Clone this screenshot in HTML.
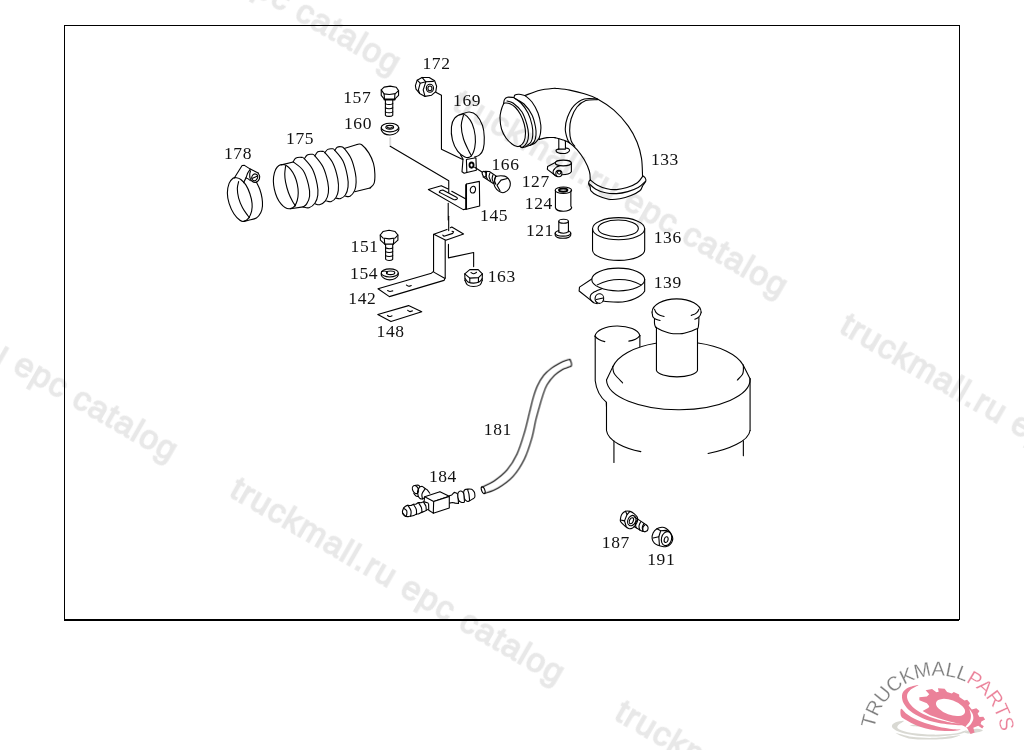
<!DOCTYPE html>
<html lang="en">
<head>
<meta charset="utf-8">
<title>truckmall.ru epc catalog</title>
<style>
html,body{margin:0;padding:0;background:#fff;width:1024px;height:750px;overflow:hidden}
svg{display:block;position:absolute;left:0;top:0}
.wm,.lb{filter:grayscale(1)}
.wm{font-family:"Liberation Sans",Arial,sans-serif;font-size:33.5px;fill:#e8e8e8;stroke:#e8e8e8;stroke-width:1.4;letter-spacing:1.1px}
.lb{font-family:"Liberation Serif","Times New Roman",serif;font-size:17.5px;fill:#111;letter-spacing:0.6px}
.d *{fill:none;stroke:#000;stroke-width:1.1;vector-effect:non-scaling-stroke;stroke-linecap:round;stroke-linejoin:round}
.d .w{fill:#fff}
</style>
</head>
<body>
<svg width="1024" height="750" viewBox="0 0 1024 750">
<!-- WATERMARKS -->
<g class="wm" id="wm">
<text transform="translate(228.0,495.5) rotate(30)">truckmall.ru epc catalog</text>
<text transform="translate(-159.0,272.5) rotate(30)">truckmall.ru epc catalog</text>
<text transform="translate(451.0,108.5) rotate(30)">truckmall.ru epc catalog</text>
<text transform="translate(64.0,-114.5) rotate(30)">truckmall.ru epc catalog</text>
<text transform="translate(838.0,331.5) rotate(30)">truckmall.ru epc catalog</text>
<text transform="translate(613.0,718.5) rotate(30)">truckmall.ru epc catalog</text>
</g>
<!-- FRAME -->
<rect x="64.5" y="25.5" width="895" height="594" fill="none" stroke="#000" stroke-width="1"/>
<rect x="64" y="619" width="895" height="2" fill="#000"/>
<!-- LABELS -->
<g class="lb" id="labels">
<text transform="translate(422.5,68.8)">172</text>
<text transform="translate(343.2,103.1)">157</text>
<text transform="translate(344.0,129.4)">160</text>
<text transform="translate(453.1,105.5)">169</text>
<text transform="translate(286.1,144.4)">175</text>
<text transform="translate(224.0,158.6)">178</text>
<text transform="translate(491.5,170.2)">166</text>
<text transform="translate(521.7,187.3)">127</text>
<text transform="translate(524.8,209.2)">124</text>
<text transform="translate(480.1,221.2)">145</text>
<text transform="translate(525.9,236.0)">121</text>
<text transform="translate(653.7,242.9)">136</text>
<text transform="translate(653.7,287.9)">139</text>
<text transform="translate(350.6,251.6)">151</text>
<text transform="translate(350.1,279.4)">154</text>
<text transform="translate(487.7,282.4)">163</text>
<text transform="translate(348.3,303.5)">142</text>
<text transform="translate(376.6,337.2)">148</text>
<text transform="translate(483.8,434.8)">181</text>
<text transform="translate(428.9,481.7)">184</text>
<text transform="translate(601.8,547.7)">187</text>
<text transform="translate(647.2,564.8)">191</text>
<text transform="translate(650.9,164.7)">133</text>
</g>
<!-- DRAWING -->
<g class="d" id="drawing">
<!-- air filter housing: zoom origin (570,290) scale 1/4.165 -->
<g transform="translate(570,290) scale(0.2401)">
<path d="M178,321 A275,130 0 0 1 357,222"/>
<path d="M533,221 A275,130 0 0 1 721,312"/>
<path d="M152,375 A299,126 0 0 0 750,370"/>
<path d="M180,316 L152,375 M721,312 L750,370"/>
<path d="M178,321 C178.3,323.3 178.5,329.8 180,335 C181.5,340.2 180.5,343.3 187,352 C193.5,360.7 213.7,381.2 219,387"/>
<path d="M722,314 C722,317.5 722.7,328.7 722,335 C721.3,341.3 722.2,345.3 718,352 C713.8,358.7 700.5,371.2 697,375"/>
<path d="M152,468 V585 M750,370 V585"/>
<path d="M152,585 C158,630 230,660 295,673 M750,585 C744,630 660,665 575,681"/>
<path d="M183,628 V718 M722,628 V690"/>
<!-- neck -->
<path d="M342,92 A102,55 0 0 1 546,92"/>
<path d="M352,80 C356.3,86.7 351.7,90 365,100 C378.3,110 383,106.7 392,110"/>
<path d="M505,106 C512.3,102.3 516.3,103.7 527,95 C537.7,86.3 533.7,85 537,80"/>
<path d="M342,92 C342.3,94.7 340.3,91.7 343,100 C345.7,108.3 339.3,108 350,117 C360.7,126 366.7,123.7 375,127"/>
<path d="M520,122 C525.7,118.7 528.7,120.3 537,112 C545.3,103.7 542,103.7 545,97 C548,90.3 545.7,93.7 546,92"/>
<path d="M352,120 C352.3,128.3 350.3,132.7 353,145 C355.7,157.3 357.7,153 360,157"/>
<path d="M537,115 C536.3,126.7 537,134 535,150 C533,166 532.3,158.7 531,163"/>
<path d="M357,155 C371.3,161.7 370.7,166 400,175 C429.3,184 415,181.7 445,182 C475,182.3 461.3,183.3 490,176 C518.7,168.7 517.3,165.3 531,160"/>
<path d="M360,155 V335 A86,30 0 0 0 531,335 V160"/>
<!-- side inlet -->
<path d="M104,192 A94,46 0 0 1 291,190"/>
<path d="M104,192 C112,203 125,211 145,215 M291,190 C282,202 265,210 245,213"/>
<path d="M105,192 V378 C109,412 126,446 151,467 L152,486 M291,190 V236"/>
</g>
<!-- elbow left -->
<g transform="translate(495,85) scale(0.10000)">
<path d="M85,190 C77.5,203.3 65.8,236.7 60,260 C54.2,283.3 49.2,300 50,330 C50.8,360 55,406.7 65,440 C75,473.3 92.5,505 110,530 C127.5,555 152.5,576.2 170,590 C187.5,603.8 201.7,609.7 215,613 C228.3,616.3 237.5,618 250,610 C262.5,602 280.8,586.7 290,565 C299.2,543.3 304.7,509.2 305,480 C305.3,450.8 300.3,420.8 292,390 C283.7,359.2 269.5,322.5 255,295 C240.5,267.5 222.5,243 205,225 C187.5,207 166.7,194.5 150,187 C133.3,179.5 115.8,179.5 105,180 C94.2,180.5 92.5,176.7 85,190Z"/>
<path d="M120,160 C130,163.3 155,161.7 180,180 C205,198.3 246.7,233.3 270,270 C293.3,306.7 309.2,361.7 320,400 C330.8,438.3 335,470.8 335,500 C335,529.2 330,554.7 320,575 C310,595.3 286.7,615.8 275,622 C263.3,628.2 254.2,613.7 250,612"/>
<path d="M85,190 C86.7,182.5 88.3,156.3 95,145 C101.7,133.7 110,125.3 125,122 C140,118.7 175,124.5 185,125"/>
<path d="M185,125 C197.5,134.2 235.8,154.2 260,180 C284.2,205.8 311.7,243.3 330,280 C348.3,316.7 362,363.3 370,400 C378,436.7 379.7,471.7 378,500 C376.3,528.3 370,552.3 360,570 C350,587.7 325,600 318,606"/>
<path d="M200,135 C215,144.2 261.7,162.5 290,190 C318.3,217.5 350.8,261.7 370,300 C389.2,338.3 398.3,386.7 405,420 C411.7,453.3 412.2,475.7 410,500 C407.8,524.3 402,548.8 392,566 C382,583.2 357,596.8 350,603"/>
<path d="M190,125 C191.7,120.8 191.7,105.5 200,100 C208.3,94.5 223.3,91.2 240,92 C256.7,92.8 290,102.8 300,105"/>
<path d="M300,105 C311.7,115.8 348.3,140.8 370,170 C391.7,199.2 415.3,241.7 430,280 C444.7,318.3 453.8,366.7 458,400 C462.2,433.3 458,457.5 455,480 C452,502.5 442.5,525.8 440,535"/>
<path d="M250,612 C253.7,614.3 262,625.3 272,626 C282,626.7 297,619.8 310,616 C323,612.2 335,609 350,603 C365,597 385,591.3 400,580 C415,568.7 433.3,542.5 440,535"/>
<path d="M300,105 C325,96.2 400,64.2 450,52 C500,39.8 575,35.3 600,32"/>
<path d="M440,545 C453.3,541.8 493.3,529.2 520,526 C546.7,522.8 586.7,526 600,526"/>
</g>
<!-- elbow right -->
<g transform="translate(555,85) scale(0.14663)">
<path d="M0,22 C16.7,24.2 66.7,28.7 100,35 C133.3,41.3 168.3,50 200,60 C231.7,70 256.7,76.7 290,95 C323.3,113.3 365,139.2 400,170 C435,200.8 473.3,243.3 500,280 C526.7,316.7 545,353.3 560,390 C575,426.7 583.8,461.7 590,500 C596.2,538.3 595.8,600 597,620"/>
<path d="M290,95 C275,95 226.7,87.5 200,95 C173.3,102.5 149.2,119.2 130,140 C110.8,160.8 95,193.3 85,220 C75,246.7 70,275 70,300 C70,325 80,354.2 85,370 C90,385.8 97.5,390.8 100,395"/>
<path d="M290,100 C276.7,101 233.3,97.7 210,106 C186.7,114.3 166.7,129.3 150,150 C133.3,170.7 118.3,203.3 110,230 C101.7,256.7 100,285 100,310 C100,335 104.2,362 110,380 C115.8,398 130.8,411.7 135,418"/>
<path d="M0,359 C8.3,361.3 33.3,367 50,373 C66.7,379 83.3,383.8 100,395 C116.7,406.2 133.3,420.8 150,440 C166.7,459.2 185.8,485 200,510 C214.2,535 228.3,566.7 235,590 C241.7,613.3 239.2,640 240,650"/>
</g>
<!-- elbow flange -->
<g transform="translate(575,150) scale(0.08000)">
<path d="M193,375 C190,377.8 178.5,382.8 175,392 C171.5,401.2 169.5,418.3 172,430 C174.5,441.7 185.3,448.7 190,462 C194.7,475.3 185,492 200,510 C215,528 243.3,552.5 280,570 C316.7,587.5 373.3,608.3 420,615 C466.7,621.7 513.3,617.5 560,610 C606.7,602.5 658.3,586.7 700,570 C741.7,553.3 786.3,529.2 810,510 C833.7,490.8 836.7,464.2 842,455"/>
<path d="M845,320 C850.5,325 871.3,338.3 878,350 C884.7,361.7 889.7,375 885,390 C880.3,405 857.2,429.2 850,440 C842.8,450.8 843.3,452.5 842,455"/>
<path d="M193,375 C207.5,385.8 245.5,421.7 280,440 C314.5,458.3 360,475.8 400,485 C440,494.2 478.3,497.5 520,495 C561.7,492.5 606.7,484.2 650,470 C693.3,455.8 747.5,433.3 780,410 C812.5,386.7 834.2,343.3 845,330"/>
<path d="M175,420 C189.2,431.7 225.8,470.8 260,490 C294.2,509.2 336.7,525.8 380,535 C423.3,544.2 473.3,547.5 520,545 C566.7,542.5 615,532.5 660,520 C705,507.5 753.3,491.3 790,470 C826.7,448.7 865,405 880,392"/>
</g>
<!-- bellows 175 -->
<g transform="translate(268,140) scale(0.11719)">
<ellipse cx="152" cy="398" rx="100" ry="192" transform="rotate(-12 152 398)"/>
<path d="M150,225 C148.8,235.8 143,267.5 143,290 C143,312.5 144.7,333.3 150,360 C155.3,386.7 165,422.5 175,450 C185,477.5 200,506.3 210,525 C220,543.7 230.8,555.8 235,562"/>
<path d="M115,212 L215,187"/>
<path d="M215,187 C229.2,199.2 278.3,227.8 300,260 C321.7,292.2 335.8,343.3 345,380 C354.2,416.7 357.5,452.5 355,480 C352.5,507.5 339.2,529.8 330,545 C320.8,560.2 305,566.7 300,571"/>
<path d="M192,587 L300,571"/>
<path d="M215,187 C218.3,181.7 223.3,161.5 235,155 C246.7,148.5 272.5,147.2 285,148 C297.5,148.8 294.2,143 310,160 C325.8,177 361.7,213.3 380,250 C398.3,286.7 412.5,343.3 420,380 C427.5,416.7 428.3,443.3 425,470 C421.7,496.7 412.5,522 400,540 C387.5,558 366.7,572.8 350,578 C333.3,583.2 308.3,572.2 300,571"/>
<path d="M310,160 C314.2,154.7 324.2,134.3 335,128 C345.8,121.7 364.2,120.8 375,122 C385.8,123.2 384.2,117 400,135 C415.8,153 451.7,192.5 470,230 C488.3,267.5 502.5,323.3 510,360 C517.5,396.7 518.3,423.3 515,450 C511.7,476.7 502.5,503 490,520 C477.5,537 454.2,547.8 440,552 C425.8,556.2 410.8,546.2 405,545"/>
<path d="M400,135 C404.2,129.2 414.2,106.3 425,100 C435.8,93.7 455,95.7 465,97 C475,98.3 470,90.8 485,108 C500,125.2 536.7,163 555,200 C573.3,237 587.5,291.7 595,330 C602.5,368.3 602.5,403.3 600,430 C597.5,456.7 590,474.2 580,490 C570,505.8 553.3,520 540,525 C526.7,530 506.7,520.8 500,520"/>
<path d="M485,108 C489.2,103.3 499.2,85.5 510,80 C520.8,74.5 540,73.7 550,75 C560,76.3 555,70.5 570,88 C585,105.5 622,143 640,180 C658,217 670.8,273.3 678,310 C685.2,346.7 686,373.3 683,400 C680,426.7 670.5,453.3 660,470 C649.5,486.7 633,495.5 620,500 C607,504.5 588.3,497.5 582,497"/>
<path d="M570,88 C573.3,83.7 580.8,67 590,62 C599.2,57 615,56.3 625,58 C635,59.7 635.8,55 650,72 C664.2,89 694.2,125.3 710,160 C725.8,194.7 738,246.7 745,280 C752,313.3 752.8,335 752,360 C751.2,385 748.7,410 740,430 C731.3,450 713,471.7 700,480 C687,488.3 668.3,480 662,480"/>
<path d="M650,72 L760,38"/>
<path d="M760,38 C766.7,38.3 783.3,28 800,40 C816.7,52 843.3,83.3 860,110 C876.7,136.7 891.3,170 900,200 C908.7,230 911.2,261.7 912,290 C912.8,318.3 912,350 905,370 C898,390 875.8,403.3 870,410"/>
<path d="M870,410 L740,442"/>
</g>
<!-- clamp 178 -->
<g transform="translate(220,160) scale(0.08666)">
<path d="M150,210 C135.8,220.8 115.8,241.7 105,270 C94.2,298.3 85,341.7 85,380 C85,418.3 92.5,460 105,500 C117.5,540 139.2,587.5 160,620 C180.8,652.5 210.8,680.3 230,695 C249.2,709.7 258.3,712.2 275,708 C291.7,703.8 315,689.7 330,670 C345,650.3 358.3,618.3 365,590 C371.7,561.7 373.3,533.3 370,500 C366.7,466.7 356.7,425 345,390 C333.3,355 317.5,317.5 300,290 C282.5,262.5 258.3,239.2 240,225 C221.7,210.8 205,207.5 190,205 C175,202.5 164.2,199.2 150,210Z"/>
<path d="M215,250 C212.5,263.3 200,298.3 200,330 C200,361.7 205,403.3 215,440 C225,476.7 242.5,516.7 260,550 C277.5,583.3 306.7,620.8 320,640 C333.3,659.2 336.7,660.8 340,665"/>
<path d="M420,255 C426.7,269.2 449.2,309.2 460,340 C470.8,370.8 480,408.3 485,440 C490,471.7 492.5,501.7 490,530 C487.5,558.3 481.7,586.7 470,610 C458.3,633.3 443.3,655.8 420,670 C396.7,684.2 354.2,688.7 330,695 C305.8,701.3 284.2,705.8 275,708"/>
<path d="M165,207 L255,63 L282,62 L350,105 L440,150"/>
<path d="M350,105 C345,112.5 328.3,133.3 320,150 C311.7,166.7 308,186.3 300,205 C292,223.7 276.7,252.5 272,262"/>
<path d="M300,205 C303.3,206.7 311.7,209.5 320,215 C328.3,220.5 345,234.2 350,238"/>
<path d="M352,125 C350.5,131.7 343.8,150.8 343,165 C342.2,179.2 342.5,196.7 347,210 C351.5,223.3 359.5,237 370,245 C380.5,253 397.5,259.7 410,258 C422.5,256.3 437,246.3 445,235 C453,223.7 458.8,204.2 458,190 C457.2,175.8 443,156.7 440,150"/>
<ellipse cx="400" cy="200" rx="33" ry="40" transform="rotate(25 400 200)"/>
<path d="M375,212 L428,188"/>
</g>
<!-- 136 139 -->
<g transform="translate(570,215) scale(0.12658)">
<ellipse cx="384" cy="108" rx="206" ry="87"/>
<ellipse cx="381" cy="106" rx="159" ry="66"/>
<path d="M178,108 V278 A206,82 0 0 0 590,275 V108"/>
<ellipse cx="381" cy="510" rx="209" ry="90"/>
<path d="M215,552 C270,525 330,510 390,510 C450,510 510,525 560,552"/>
<path d="M590,508 V600 C570,640 480,688 380,688 C330,688 290,686 262,680"/>
<path d="M172,506 L75,570 L72,600 L188,692"/>
<path d="M250,583 C244.2,585.2 225.8,591.2 215,596 C204.2,600.8 190,609.3 185,612"/>
<path d="M185,612 C181.7,615 169.2,622 165,630 C160.8,638 156.7,649.7 160,660 C163.3,670.3 175.8,685.3 185,692 C194.2,698.7 210,698.7 215,700"/>
<ellipse cx="232" cy="660" rx="34" ry="38" transform="rotate(10 232 660)"/>
<path d="M208,668 L262,655"/>
</g>
<!-- stub 127 -->
<g transform="translate(540,135) scale(0.08000)">
<path d="M235,45 L235,175"/>
<path d="M318,78 L318,165"/>
<path d="M235,176 C210,178 200,186 200,196 C200,215 240,232 285,232 C325,232 368,215 370,190 C368,172 340,160 322,166"/>
<path d="M235,176 L318,176"/>
<ellipse cx="291" cy="350" rx="101" ry="36"/>
<path d="M392,350 V460 C375,485 330,497 275,497"/>
<path d="M191,345 L95,395 L92,430 L192,507"/>
<path d="M240,386 C234.2,388.7 215.3,395 205,402 C194.7,409 182.5,423.7 178,428"/>
<path d="M178,428 C175.8,431.7 166.7,441.3 165,450 C163.3,458.7 163.5,470.5 168,480 C172.5,489.5 184.2,500.3 192,507 C199.8,513.7 211.2,517.8 215,520"/>
<ellipse cx="236" cy="482" rx="38" ry="40"/>
<ellipse cx="240" cy="470" rx="22" ry="20"/>
</g>
<!-- 124 121 -->
<g transform="translate(540,180) scale(0.08666)">
<ellipse cx="270" cy="118" rx="95" ry="38"/>
<ellipse cx="268" cy="116" rx="48" ry="19" style="stroke-width:2"/>
<path d="M178,122 V320 C185,345 225,360 268,360 C310,360 355,345 366,320 L356,300 V125"/>
<ellipse cx="272" cy="476" rx="55" ry="23"/>
<path d="M217,478 V600 M328,478 V596"/>
<path d="M217,582 C195,588 175,598 175,615 V635 C180,655 220,672 265,672 C310,672 350,655 355,635 V612 C352,600 342,592 328,586"/>
<path d="M175,615 C180,632 220,648 265,648 C310,648 350,632 355,612"/>
<path d="M217,600 C230,610 250,614 272,614 C295,614 315,608 328,596"/>
</g>
<!-- 157 160 -->
<g transform="translate(375,75) scale(0.08666)">
<path d="M72,172 L105,140 L175,128 L245,142 L272,180 L235,215 L165,225 L105,218Z"/>
<path d="M72,172 L72,235 L110,282 L225,282 L272,235 L272,180"/>
<path d="M105,218 L110,282"/>
<path d="M230,216 L226,282"/>
<path d="M110,284 H226" style="stroke-width:2"/>
<path d="M120,290 V465 C135,480 185,482 205,465 V290"/>
<path d="M120,330 C140,345 185,345 205,330 M120,378 C140,393 185,393 205,378 M120,425 C140,440 185,440 205,425"/>
<ellipse cx="172" cy="606" rx="100" ry="50"/>
<path d="M72,608 V632 C85,670 130,692 172,692 C215,692 262,670 275,632 V606"/>
<ellipse cx="170" cy="603" rx="45" ry="22"/>
<path d="M140,600 C143.3,602 152.5,610 160,612 C167.5,614 178.3,613.5 185,612 C191.7,610.5 197.5,604.5 200,603"/>
</g>
<!-- 151 154 -->
<g transform="translate(370,222) scale(0.08666)">
<path d="M118,150 L150,110 L220,95 L290,110 L322,150 L290,185 L220,195 L150,185Z"/>
<path d="M118,150 L120,210 L170,255 L270,255 L322,210 L322,150"/>
<path d="M165,190 L170,255"/>
<path d="M275,190 L270,255"/>
<path d="M180,258 V430 C195,448 245,448 262,430 V258"/>
<path d="M180,298 C200,312 245,312 262,298 M180,342 C200,356 245,356 262,342 M180,388 C200,402 245,402 262,388"/>
<ellipse cx="228" cy="588" rx="98" ry="47"/>
<path d="M130,590 V612 C140,645 185,668 228,668 C272,668 315,645 326,612 V588"/>
<ellipse cx="238" cy="586" rx="48" ry="21"/>
<path d="M135,572 C140,571 154.2,565 165,566 C175.8,567 195.5,573 200,578 C204.5,583 193.3,593 192,596"/>
</g>
<!-- 172 -->
<g transform="translate(410,70) scale(0.12000)">
<path d="M45,130 L60,85 L100,62 L160,62 L205,90 L222,135 L215,180 L180,210 L125,220 L80,195 L50,160Z"/>
<path d="M100,62 L132,98 L195,95"/>
<path d="M132,98 L110,165 L125,220"/>
<path d="M60,85 L85,110 L70,165 L80,195"/>
<path d="M85,110 L132,98"/>
<ellipse cx="166" cy="152" rx="30" ry="33"/>
<ellipse cx="166" cy="153" rx="17" ry="20"/>
<path d="M215,185 L262,210 L262,660 L440,745"/>
</g>
<!-- 169 -->
<g transform="translate(440,105) scale(0.14663)">
<path d="M150,62 C135.8,64 112,75.3 100,90 C88,104.7 80.5,125 78,150 C75.5,175 78,212.5 85,240 C92,267.5 105.8,295.8 120,315 C134.2,334.2 155,349.2 170,355 C185,360.8 198.8,360.8 210,350 C221.2,339.2 232,313.3 237,290 C242,266.7 242.8,236.7 240,210 C237.2,183.3 229.2,152 220,130 C210.8,108 196.7,89.3 185,78 C173.3,66.7 164.2,60 150,62Z"/>
<path d="M160,70 C157.5,81.7 145,113.3 145,140 C145,166.7 151.7,201.7 160,230 C168.3,258.3 185.8,290.3 195,310 C204.2,329.7 211.7,341.7 215,348"/>
<path d="M150,62 C158.3,59.7 183.3,46.7 200,48 C216.7,49.3 235,54.7 250,70 C265,85.3 281.3,115 290,140 C298.7,165 301.2,193.3 302,220 C302.8,246.7 300.3,280 295,300 C289.7,320 280,330.8 270,340 C260,349.2 240.8,352.5 235,355"/>
<path d="M180,372 L245,360 L248,445 L183,460Z"/>
<path d="M140,340 L157,368 L150,455 L165,465 L183,460"/>
<ellipse cx="215" cy="410" rx="14" ry="18" style="stroke-width:1.8"/>
</g>
<!-- 166 -->
<g transform="translate(470,150) scale(0.06667)">
<path d="M70,260 L180,330"/>
<ellipse cx="215" cy="362" rx="28" ry="44" transform="rotate(-25 215 362)"/>
<path d="M225,320 L290,322 L400,395"/>
<path d="M195,402 L355,505"/>
<path d="M250,328 C248,336.7 236,361.7 238,380 C240,398.3 258,428.3 262,438"/>
<path d="M298,348 C296,357 283.7,382.5 286,402 C288.3,421.5 307.7,454.5 312,465"/>
<path d="M345,372 C342.8,381.3 330.8,408.3 332,428 C333.2,447.7 348.7,479.7 352,490"/>
<path d="M385,392 C382.2,402.5 367.5,434.5 368,455 C368.5,475.5 384.7,505 388,515"/>
<path d="M400,395 C424.7,387 490.8,386.2 520,392 C549.2,397.8 560.8,412 575,430 C589.2,448 603.3,475 605,500 C606.7,525 599.2,557.5 585,580 C570.8,602.5 540,625.8 520,635 C500,644.2 485,642.5 465,635 C445,627.5 417.2,609.2 400,590 C382.8,570.8 366.7,545 362,520 C357.3,495 365.7,460.8 372,440 C378.3,419.2 375.3,403 400,395Z"/>
<path d="M560,428 L465,452 L405,530 L450,612"/>
</g>
<!-- 145 -->
<g transform="translate(380,140) scale(0.10742)">
<path d="M95,-18 V55" style="stroke:#ddd;stroke-width:2"/>
<path d="M95,58 L640,380 L640,488"/>
<path d="M635,455 L570,425 L450,460 L775,648 L805,643"/>
<path d="M668,478 L800,550"/>
<path d="M553,480 Q560,468 585,466 L712,532 Q728,542 714,552 Q700,560 684,554 L560,490 Q548,486 553,480 Z"/>
<path d="M805,410 L925,385 L928,615 L805,645Z"/>
<path d="M805,410 L798,418 L798,645"/>
<ellipse cx="865" cy="462" rx="24" ry="32" transform="rotate(15 865 462)"/>
<path d="M635,590 L635,745"/>
</g>
<!-- 142 163 -->
<g transform="translate(375,215) scale(0.12000)">
<path d="M614,10 L614,130"/>
<path d="M600,120 L490,160 L590,210 L738,158 L640,100 L628,106"/>
<path d="M565,168 L575,177 L648,153 L655,139 L642,135"/>
<path d="M488,160 L488,470"/>
<path d="M585,212 L585,525"/>
<path d="M488,470 L470,485 L25,615 L120,680 L575,545 L585,525"/>
<path d="M490,476 L580,527"/>
<path d="M105,630 C108.3,631.2 117.8,636.7 125,637 C132.2,637.3 144.2,632.8 148,632"/>
<path d="M262,584 C265.3,585.7 275.3,593.3 282,594 C288.7,594.7 298.7,589 302,588"/>
<path d="M612,245 L612,357 L822,312 L822,430"/>
<path d="M748,490 L790,455 L860,455 L895,490 L862,522 L790,526Z"/>
<path d="M748,490 L750,545"/>
<path d="M895,490 L893,545"/>
<path d="M790,526 L790,560"/>
<path d="M862,522 L862,558"/>
<path d="M750,545 C753.3,551.2 758.3,573.5 770,582 C781.7,590.5 802.5,596 820,596 C837.5,596 862.8,590.5 875,582 C887.2,573.5 890,551.2 893,545"/>
<path d="M752,530 C755.8,534.7 763.3,551.7 775,558 C786.7,564.3 806.2,568.3 822,568 C837.8,567.7 858.2,562.3 870,556 C881.8,549.7 889.2,534.3 893,530"/>
<path d="M800,480 C803.7,481.7 814.3,490.3 822,490 C829.7,489.7 842,480 846,478"/>
</g>
<!-- 148 -->
<g transform="translate(340,220) scale(0.17578)">
<path d="M215,538 L390,487 L465,522 L290,578Z"/>
<path d="M270,543 C272,544 277.7,548.7 282,549 C286.3,549.3 293.7,545.7 296,545"/>
<path d="M385,514 C387.2,515.2 393.5,520.5 398,521 C402.5,521.5 409.7,517.7 412,517"/>
</g>
<!-- 181 -->
<g transform="translate(470,350) scale(0.20000)">
<path d="M60,685 C70,680 99.2,669.2 120,655 C140.8,640.8 165.8,622.5 185,600 C204.2,577.5 220.8,550 235,520 C249.2,490 259.5,455 270,420 C280.5,385 290.3,340.3 298,310 C305.7,279.7 309.5,259.8 316,238 C322.5,216.2 328.2,197.7 337,179 C345.8,160.3 357.3,140.7 369,126 C380.7,111.3 393.7,101.2 407,91 C420.3,80.8 436.7,71.7 449,65 C461.3,58.3 472.5,54 481,51 C489.5,48 496.8,47.7 500,47"/>
<path d="M72,718 C83.3,713.3 116.2,704.3 140,690 C163.8,675.7 193,656.2 215,632 C237,607.8 256.5,576.2 272,545 C287.5,513.8 298.5,477.5 308,445 C317.5,412.5 322.8,375.7 329,350 C335.2,324.3 339.2,311.5 345,291 C350.8,270.5 357.3,246.5 364,227 C370.7,207.5 375.2,190.8 385,174 C394.8,157.2 410.5,138.5 423,126 C435.5,113.5 449.3,105.3 460,99 C470.7,92.7 479.5,91 487,88 C494.5,85 502,82.2 505,81"/>
<ellipse cx="66" cy="701" rx="8" ry="18" transform="rotate(-20 66 701)"/>
<path d="M500,47 C501,49.5 504.7,57.5 506,62 C507.3,66.5 508.2,70.8 508,74 C507.8,77.2 505.5,79.8 505,81"/>
</g>
<!-- 184 -->
<g transform="translate(395,478) scale(0.07812)">
<ellipse class="w" cx="262" cy="148" rx="36" ry="54" transform="rotate(-25 262 148)"/>
<path d="M262,95 C268.3,94.5 290,89.2 300,92 C310,94.8 313.7,109.3 322,112 C330.3,114.7 339.5,104.2 350,108 C360.5,111.8 375,128 385,135 C395,142 400,140 410,150 C420,160 439.2,187.5 445,195"/>
<path d="M240,195 C245,201.2 260.3,224.8 270,232 C279.7,239.2 289.7,233 298,238 C306.3,243 311.3,257 320,262 C328.7,267 341.3,269.2 350,268 C358.7,266.8 368.3,257.2 372,255"/>
<path d="M318,108 C313,118.3 291,148.3 288,170 C285,191.7 298,226.7 300,238"/>
<path d="M385,140 C378.3,150.8 350.5,183.7 345,205 C339.5,226.3 350.8,257.5 352,268"/>
<path class="w" d="M697,226 L727,217 L758,184 L784,191 L804,208 L813,326 L771,322 L736,313 L697,322"/>
<path class="w" d="M878,185 C879.8,167 887.7,155.2 898,148 C908.3,140.8 926.2,142.5 940,142 C953.8,141.5 969.8,140.5 981,145 C992.2,149.5 1000.5,160.7 1007,169 C1013.5,177.3 1017.8,181.8 1020,195 C1022.2,208.2 1025,235.5 1020,248 C1015,260.5 1000.8,262.8 990,270 C979.2,277.2 965,286 955,291 C945,296 938.8,301.3 930,300 C921.2,298.7 909.2,290.3 902,283 C894.8,275.7 891,272.3 887,256 C883,239.7 876.2,203 878,185Z"/>
<path d="M929,148 C931.8,157.3 941.7,180.3 946,204 C950.3,227.7 953.5,275.7 955,290"/>
<path class="w" d="M804,204 C805.5,185 815.7,176.5 824,171 C832.3,165.5 845,167 854,171 C863,175 872.8,180.8 878,195 C883.2,209.2 883.2,238.5 885,256 C886.8,273.5 889.7,290.5 889,300 C888.3,309.5 888.2,311.5 881,313 C873.8,314.5 857,313.7 846,309 C835,304.3 822,302.5 815,285 C808,267.5 802.5,223 804,204Z"/>
<path class="w" d="M380,240 L575,175 L695,235 L495,300Z"/>
<path class="w" d="M495,300 L490,450 L695,385 L695,235Z"/>
<path d="M380,240 L372,300"/>
<path d="M430,330 L432,412 L490,450"/>
<path d="M110,385 C114.2,381.2 125.8,367.8 135,362 C144.2,356.2 154.2,351.7 165,350 C175.8,348.3 188.3,354 200,352 C211.7,350 224.2,340.8 235,338 C245.8,335.2 254.2,338.8 265,335 C275.8,331.2 288.3,318.2 300,315 C311.7,311.8 323.3,317.7 335,316 C346.7,314.3 355,304 370,305 C385,306 415.8,319.2 425,322"/>
<path d="M100,450 C105.8,456.7 123.3,482.7 135,490 C146.7,497.3 159.2,494.3 170,494 C180.8,493.7 188.3,490.3 200,488 C211.7,485.7 228.3,483.8 240,480 C251.7,476.2 259.2,468.7 270,465 C280.8,461.3 293.3,462.2 305,458 C316.7,453.8 327.5,445.5 340,440 C352.5,434.5 365.8,431.7 380,425 C394.2,418.3 417.5,404.2 425,400"/>
<path d="M110,385 C107.5,392.5 95.8,416.2 95,430 C94.2,443.8 98.3,457.7 105,468 C111.7,478.3 130,488 135,492"/>
<path d="M112,388 C118.3,393.3 143.7,406.3 150,420 C156.3,433.7 152,458.3 150,470 C148,481.7 140,486.7 138,490"/>
<path d="M165,350 C171.7,361.7 199.2,396.7 205,420 C210.8,443.3 200.8,478.3 200,490"/>
<path d="M235,338 C241.2,348.3 265.3,378.8 272,400 C278.7,421.2 274.5,454.2 275,465"/>
<path d="M300,315 C306.3,325.8 330.5,359.2 338,380 C345.5,400.8 343.8,430 345,440"/>
<path d="M365,308 C370,316.7 389.2,342.2 395,360 C400.8,377.8 399.2,405.8 400,415"/>
</g>
<!-- 187 191 -->
<g transform="translate(615,505) scale(0.06348)">
<path d="M85,225 C87.5,205.8 91.7,170.8 105,150 C118.3,129.2 143.3,108.3 165,100 C186.7,91.7 212.5,94.2 235,100 C257.5,105.8 280.8,120 300,135 C319.2,150 340.8,170.8 350,190 C359.2,209.2 360,228.3 355,250 C350,271.7 334.2,300.8 320,320 C305.8,339.2 287.5,356.7 270,365 C252.5,373.3 235,376.7 215,370 C195,363.3 170.8,342.5 150,325 C129.2,307.5 100.8,281.7 90,265 C79.2,248.3 82.5,244.2 85,225Z"/>
<path d="M165,100 L190,150 L150,250 L175,335"/>
<path d="M235,100 L190,150"/>
<path d="M150,250 L88,235"/>
<ellipse cx="265" cy="245" rx="62" ry="85" transform="rotate(25 265 245)"/>
<ellipse cx="258" cy="248" rx="30" ry="50" transform="rotate(25 258 248)"/>
<path d="M300,185 L400,250 L500,320"/>
<path d="M300,340 L420,410 L470,422"/>
<path d="M500,320 C503.3,325 518,336.7 520,350 C522,363.3 520.3,388 512,400 C503.7,412 477,418.3 470,422"/>
<path d="M470,315 C465,321.7 445,338.3 440,355 C435,371.7 440,405 440,415"/>
<path d="M350,235 C345.3,245 324.5,274.2 322,295 C319.5,315.8 332.8,349.2 335,360"/>
<path d="M405,265 C400.5,275.8 380.5,308.3 378,330 C375.5,351.7 388,384.2 390,395"/>
<path d="M455,295 C450.8,304.2 432.5,330.5 430,350 C427.5,369.5 438.3,401.7 440,412"/>
<path d="M585,530 C581.7,503.3 587.5,465.8 600,440 C612.5,414.2 636.7,390 660,375 C683.3,360 716.7,351.7 740,350 C763.3,348.3 780,353.3 800,365 C820,376.7 842.5,397.5 860,420 C877.5,442.5 897.5,476.7 905,500 C912.5,523.3 910.8,540 905,560 C899.2,580 885.8,604.2 870,620 C854.2,635.8 830,649.2 810,655 C790,660.8 771.7,658.3 750,655 C728.3,651.7 701.7,644.2 680,635 C658.3,625.8 635.8,617.5 620,600 C604.2,582.5 588.3,556.7 585,530Z"/>
<path d="M660,375 L720,405 L690,500 L700,635"/>
<path d="M720,405 L800,400 L860,420"/>
<path d="M690,500 L600,520"/>
<ellipse cx="812" cy="530" rx="80" ry="112" transform="rotate(15 812 530)"/>
<ellipse cx="806" cy="545" rx="30" ry="46" transform="rotate(15 806 545)"/>
</g>
</g>
<!-- LOGO -->
<g id="logo">
<g transform="translate(885,675) scale(0.10742)" shape-rendering="geometricPrecision">
<path d="M65,470 C68.3,460 81.7,447 100,440 C118.3,433 171.7,423 175,428 C178.3,433 127.5,457.2 120,470 C112.5,482.8 108.3,493.3 130,505 C151.7,516.7 196.7,531.7 250,540 C303.3,548.3 383.3,554.2 450,555 C516.7,555.8 598.3,551.7 650,545 C701.7,538.3 751.7,514.2 760,515 C768.3,515.8 743.3,540.5 700,550 C656.7,559.5 566.7,569.5 500,572 C433.3,574.5 358.3,571.2 300,565 C241.7,558.8 186.7,545.8 150,535 C113.3,524.2 94.2,510.8 80,500 C65.8,489.2 61.7,480 65,470Z" fill="#d9d9d3"/>
<path d="M100,540 C105,537.5 191.7,567.5 250,575 C308.3,582.5 383.3,586.7 450,585 C516.7,583.3 608.3,569.2 650,565 C691.7,560.8 708.3,555.8 700,560 C691.7,564.2 650,583.3 600,590 C550,596.7 463.3,600 400,600 C336.7,600 270,600 220,590 C170,580 95,542.5 100,540Z" fill="#d9d9d3"/>
<path d="M230,470 C230,465.8 290,455 330,455 C370,455 470,465.8 470,470 C470,474.2 370,480 330,480 C290,480 230,474.2 230,470Z" fill="#d9d9d3"/>
<path d="M740,530 C748.3,522.5 821.7,501.7 850,500 C878.3,498.3 918.3,512.5 910,520 C901.7,527.5 828.3,543.3 800,545 C771.7,546.7 731.7,537.5 740,530Z" fill="#d9d9d3"/>
<path d="M320,208 L390,200 L412,180 L378,142 L438,130 L478,160 L500,157 L493,124 L555,127 L578,158 L622,172 L640,158 L690,182 L692,205 L740,238 L765,230 L792,262 L778,285 L808,322 L850,310 L880,335 L862,360 L880,392 L915,388 L932,415 L897,432 L890,455 L920,478 L905,497 L868,472 L822,490 L834,535 L797,550 L762,490 L700,455 L600,432 L500,402 L420,375 L350,335 L405,305 L412,290 L390,262 L320,235 Z" fill="#eb8199"/>
<ellipse cx="610" cy="302" rx="142" ry="68" transform="rotate(20 610 302)" fill="#fff"/>
<path d="M785,318 C788.8,321.3 808.8,344.7 815,360 C821.2,375.3 824.5,394.2 822,410 C819.5,425.8 809.5,442.2 800,455 C790.5,467.8 773,483.2 765,487 C757,490.8 747.8,487.5 752,478 C756.2,468.5 782,446.3 790,430 C798,413.7 799.7,395 800,380 C800.3,365 794.5,350.3 792,340 C789.5,329.7 781.2,314.7 785,318Z" fill="#fff"/>
<path d="M312,93 C311.2,88.3 252.8,102.5 230,112 C207.2,121.5 187,135.3 175,150 C163,164.7 158,180.8 158,200 C158,219.2 162.2,242.5 175,265 C187.8,287.5 205.8,312.2 235,335 C264.2,357.8 305.8,383.3 350,402 C394.2,420.7 441.7,436 500,447 C558.3,458 655.8,466.5 700,468 C744.2,469.5 775,459.7 765,456 C755,452.3 674.2,450.3 640,446 C605.8,441.7 596.7,439.3 560,430 C523.3,420.7 463.3,406.7 420,390 C376.7,373.3 332,351.3 300,330 C268,308.7 243.8,284.5 228,262 C212.2,239.5 203.8,215.3 205,195 C206.2,174.7 217.2,157 235,140 C252.8,123 312.8,97.7 312,93Z" fill="#eb8199"/>
<path d="M150,315 C141.7,319.2 141.7,367.2 150,385 C158.3,402.8 175,407.5 200,422 C225,436.5 258.3,457 300,472 C341.7,487 400,503.7 450,512 C500,520.3 557.5,522.3 600,522 C642.5,521.7 705,513.7 705,510 C705,506.3 642.5,506.7 600,500 C557.5,493.3 500,483.3 450,470 C400,456.7 341.7,438.3 300,420 C258.3,401.7 225,377.5 200,360 C175,342.5 158.3,310.8 150,315Z" fill="#eb8199"/>
</g>
<defs><path id="arc" d="M873.5,739.5 A64,64 0 0 1 1001.5,739.5"/></defs>
<text style="filter:contrast(1);font-family:'Liberation Sans',Arial,sans-serif;font-size:20px;letter-spacing:-0.3px;stroke:#fff;stroke-width:0.2px;paint-order:fill stroke" fill="#7f7f7f"><textPath href="#arc" startOffset="10.7">TRUCKMALL<tspan fill="#eb8199">PARTS</tspan></textPath></text>
</g>
</svg>
</body>
</html>
